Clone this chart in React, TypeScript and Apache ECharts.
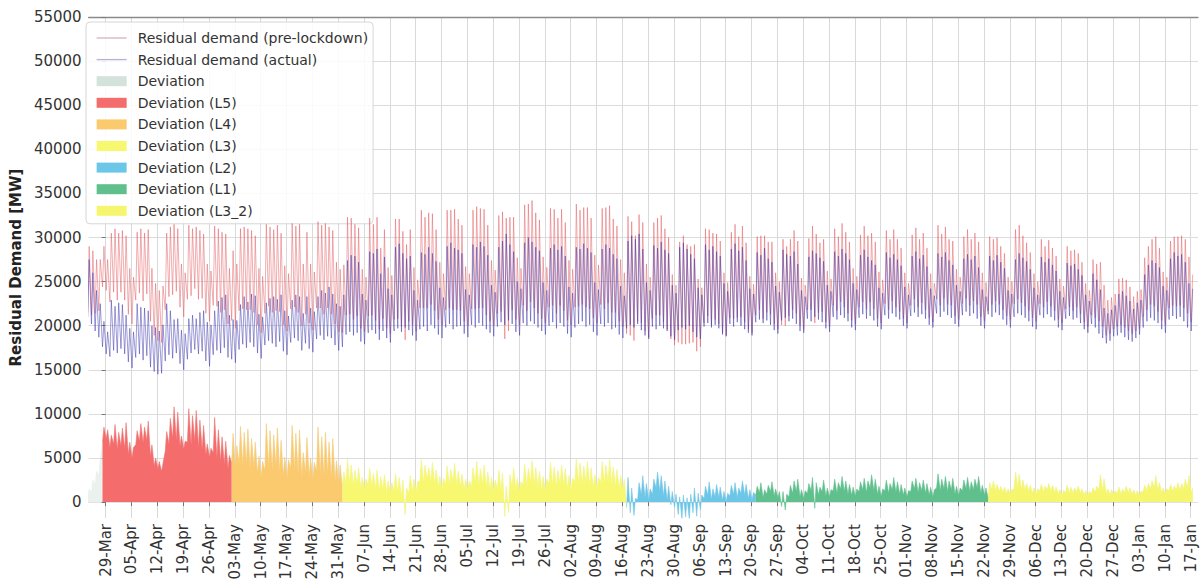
import { useEffect, useRef } from 'react';
import * as echarts from 'echarts';

// ---------- data (thousand MW) ----------
const dataStartDate = '2020-03-24';
const axisOriginDate = '2020-03-29';

const xTickLabels = ['29-Mar','05-Apr','12-Apr','19-Apr','26-Apr','03-May','10-May','17-May','24-May','31-May','07-Jun','14-Jun','21-Jun','28-Jun','05-Jul','12-Jul','19-Jul','26-Jul','02-Aug','09-Aug','16-Aug','23-Aug','30-Aug','06-Sep','13-Sep','20-Sep','27-Sep','04-Oct','11-Oct','18-Oct','25-Oct','01-Nov','08-Nov','15-Nov','22-Nov','29-Nov','06-Dec','13-Dec','20-Dec','27-Dec','03-Jan','10-Jan','17-Jan'];
const yTicks = [0, 5000, 10000, 15000, 20000, 25000, 30000, 35000, 40000, 45000, 50000, 55000];

// daily peak of the actual residual demand (one row per week, GW)
const actualPeak = [
  [27.5, 26.0, 24.0, 22.5, 20.5, 19.3],
  [22.9, 22.2, 22.6, 22.4, 21.2, 19.7, 19.3],
  [22.5, 22.1, 22.0, 21.7, 20.0, 19.8, 19.4],
  [20.1, 22.5, 21.7, 20.7, 20.8, 19.5, 19.1],
  [20.8, 21.2, 20.8, 21.5, 21.7, 20.4, 20.1],
  [21.7, 22.8, 23.2, 23.5, 21.2, 20.7, 20.6],
  [22.4, 23.3, 22.7, 23.6, 23.4, 21.3, 21.0],
  [22.6, 23.1, 23.3, 23.0, 23.5, 21.7, 21.1],
  [22.9, 23.5, 23.3, 21.4, 23.3, 22.0, 21.6],
  [23.3, 24.0, 23.7, 24.4, 23.6, 22.5, 22.2],
  [23.5, 27.4, 28.0, 27.9, 27.2, 23.6, 22.9],
  [28.4, 28.2, 28.7, 25.9, 27.8, 24.2, 23.5],
  [28.9, 29.3, 28.2, 27.6, 27.9, 24.0, 22.9],
  [28.3, 28.1, 28.9, 28.2, 27.3, 24.3, 23.2],
  [29.0, 29.4, 28.8, 28.6, 28.2, 24.1, 23.5],
  [29.2, 28.9, 29.5, 29.0, 28.0, 24.6, 23.8],
  [28.9, 29.6, 30.4, 29.2, 28.4, 25.0, 24.2],
  [29.4, 30.0, 29.5, 28.9, 28.5, 24.9, 24.0],
  [28.8, 29.2, 28.6, 29.0, 27.9, 24.4, 23.7],
  [28.9, 28.7, 29.3, 28.8, 28.3, 24.9, 24.1],
  [28.7, 29.2, 28.8, 28.1, 27.6, 24.5, 23.4],
  [29.6, 30.2, 29.8, 30.4, 28.7, 24.9, 24.0],
  [29.1, 28.8, 29.5, 28.6, 28.2, 24.6, 23.7],
  [28.9, 29.4, 28.7, 28.1, 27.6, 24.3, 23.5],
  [29.2, 28.6, 29.0, 28.4, 27.9, 24.8, 23.9],
  [28.7, 29.3, 28.5, 28.9, 27.4, 24.2, 23.6],
  [28.3, 28.0, 28.8, 27.6, 27.2, 24.5, 23.8],
  [28.6, 28.1, 27.9, 28.4, 27.0, 24.0, 23.3],
  [27.8, 28.5, 28.2, 27.7, 27.3, 24.6, 23.9],
  [28.4, 27.9, 28.7, 28.2, 27.5, 24.8, 24.1],
  [28.0, 28.6, 27.8, 27.4, 26.9, 24.3, 23.7],
  [28.3, 27.7, 28.1, 27.5, 26.8, 24.4, 23.5],
  [27.9, 28.4, 27.6, 28.0, 26.7, 24.2, 23.4],
  [28.2, 27.8, 28.3, 27.4, 26.9, 24.6, 23.9],
  [27.6, 28.1, 27.5, 27.9, 26.6, 24.1, 23.3],
  [27.9, 27.4, 28.0, 27.2, 26.5, 24.0, 23.6],
  [27.5, 28.2, 27.7, 27.3, 26.4, 24.3, 23.5],
  [27.8, 27.2, 27.6, 26.9, 26.2, 23.9, 23.2],
  [27.1, 26.8, 27.0, 26.4, 25.7, 23.5, 22.8],
  [25.9, 25.2, 24.1, 22.0, 21.4, 21.8, 22.3],
  [23.6, 23.9, 23.4, 22.8, 21.9, 22.6, 22.9],
  [25.8, 26.9, 27.4, 27.1, 26.6, 24.5, 24.0],
  [27.6, 28.3, 27.9, 28.1, 27.2, 24.8, 24.2],
];

// daily trough of the actual residual demand (GW)
const actualTrough = [
  [21.0, 20.2, 19.4, 18.7, 17.6, 16.8],
  [16.5, 17.2, 16.9, 17.4, 16.8, 15.9, 15.2],
  [16.4, 16.8, 16.1, 16.6, 15.3, 14.8, 14.5],
  [14.6, 16.0, 16.7, 16.3, 16.9, 15.7, 15.0],
  [16.2, 16.9, 17.3, 16.8, 17.1, 16.0, 15.4],
  [16.7, 17.2, 16.9, 17.5, 16.4, 16.2, 15.8],
  [17.3, 17.9, 17.5, 18.1, 17.6, 16.9, 16.3],
  [17.8, 18.3, 18.0, 17.6, 18.2, 17.1, 16.7],
  [18.1, 18.6, 18.3, 17.2, 18.0, 17.4, 17.0],
  [18.5, 18.9, 18.4, 18.8, 18.6, 17.8, 17.2],
  [17.6, 19.0, 19.3, 18.9, 19.2, 18.2, 17.9],
  [19.2, 19.5, 19.1, 18.4, 19.4, 18.6, 18.1],
  [19.4, 19.7, 19.3, 19.8, 19.5, 18.9, 18.3],
  [19.6, 19.9, 19.4, 20.1, 19.7, 19.0, 18.6],
  [19.8, 20.2, 19.6, 19.9, 20.0, 19.1, 18.7],
  [20.1, 19.8, 20.3, 20.0, 19.6, 19.2, 18.8],
  [19.9, 20.4, 20.1, 20.6, 20.2, 19.3, 18.9],
  [20.3, 20.0, 20.5, 20.2, 19.8, 19.4, 19.0],
  [20.0, 20.4, 19.7, 20.3, 19.9, 19.1, 18.7],
  [19.8, 20.2, 20.5, 19.9, 20.1, 19.3, 18.9],
  [20.2, 19.9, 20.3, 19.6, 19.8, 19.0, 18.6],
  [19.7, 20.1, 19.8, 20.2, 19.5, 18.9, 18.5],
  [19.9, 19.6, 20.0, 19.7, 19.4, 18.8, 18.4],
  [19.5, 19.8, 19.6, 20.0, 19.3, 18.7, 18.5],
  [19.9, 20.3, 19.8, 20.1, 19.7, 19.0, 18.8],
  [20.2, 19.9, 20.4, 20.0, 19.6, 19.2, 18.9],
  [20.4, 20.7, 20.3, 20.6, 20.1, 19.5, 19.1],
  [20.6, 20.9, 20.5, 20.8, 20.2, 19.4, 19.2],
  [20.8, 20.5, 21.0, 20.7, 20.4, 19.7, 19.3],
  [21.0, 20.7, 21.2, 20.9, 20.5, 19.8, 19.5],
  [20.9, 21.3, 20.8, 21.1, 20.6, 19.9, 19.6],
  [21.2, 20.8, 21.4, 21.0, 20.7, 20.0, 19.7],
  [21.1, 21.5, 21.0, 21.3, 20.8, 20.1, 19.8],
  [21.4, 21.0, 21.6, 21.2, 20.9, 20.2, 19.9],
  [21.2, 21.6, 21.1, 21.4, 20.8, 20.0, 19.7],
  [21.3, 21.0, 21.5, 21.2, 20.7, 20.1, 19.8],
  [21.0, 21.4, 21.2, 20.9, 20.5, 19.9, 19.6],
  [21.2, 20.9, 21.3, 21.0, 20.6, 19.8, 19.5],
  [20.8, 21.1, 20.7, 20.9, 20.3, 19.6, 19.2],
  [20.2, 19.8, 19.1, 18.6, 18.0, 18.3, 18.8],
  [18.9, 19.2, 18.7, 18.4, 18.2, 18.6, 19.0],
  [19.8, 20.5, 20.9, 20.6, 20.3, 19.6, 19.2],
  [20.7, 21.1, 20.8, 21.0, 20.5, 19.8, 19.4],
];

// deviation (pre-lockdown minus actual) at the daily peak hour (GW)
const deviationPeak = [
  [1.5, 2.5, 3.5, 5.0, 8.5, 8.2],
  [7.6, 8.8, 7.9, 8.4, 9.0, 6.8, 6.2],
  [8.1, 8.9, 8.5, 9.2, 6.5, 5.0, 4.6],
  [4.4, 8.0, 9.5, 10.8, 10.2, 7.5, 6.9],
  [10.6, 9.8, 10.4, 9.3, 8.7, 6.6, 6.1],
  [9.6, 8.2, 7.4, 6.9, 5.3, 7.8, 6.4],
  [8.6, 7.9, 8.3, 7.2, 6.8, 5.2, 4.6],
  [8.9, 8.1, 7.6, 8.4, 7.0, 5.1, 4.8],
  [8.7, 7.8, 8.2, 5.6, 7.3, 5.0, 4.5],
  [8.5, 7.4, 7.9, 6.8, 7.2, 4.7, 4.2],
  [3.4, 4.9, 4.2, 3.6, 3.9, 2.8, 2.6],
  [3.8, 3.3, 3.6, 2.9, 3.1, 2.4, 2.2],
  [3.2, 2.8, 2.5, 1.6, 3.0, 2.6, 2.3],
  [4.8, 4.2, 3.9, 4.5, 3.6, 2.9, 2.7],
  [4.1, 3.7, 4.4, 3.5, 3.2, 2.6, 2.4],
  [3.9, 4.6, 3.8, 4.2, 3.4, 2.8, 2.5],
  [3.6, 3.3, 1.8, 3.1, 3.9, 2.7, 2.3],
  [4.3, 3.8, 4.7, 3.9, 3.5, 2.9, 2.6],
  [4.5, 4.0, 3.6, 4.2, 3.8, 3.0, 2.7],
  [4.9, 4.4, 4.1, 4.6, 3.9, 3.1, 2.8],
  [4.6, 4.2, 4.8, 4.0, 3.7, 3.0, 2.6],
  [2.8, 1.6, 0.4, 2.2, 3.0, 2.1, 1.5],
  [2.6, 3.4, 3.0, 2.4, 1.8, 1.2, 0.9],
  [0.6, 0.8, 0.5, 0.9, 1.6, 1.0, 0.8],
  [1.8, 2.3, 1.5, 2.0, 1.7, 1.2, 1.0],
  [1.9, 2.2, 1.6, 2.4, 2.0, 1.4, 1.1],
  [1.8, 2.2, 1.4, 1.9, 2.3, 1.5, 1.2],
  [1.2, 0.9, 1.9, 2.4, 2.6, 1.4, 1.3],
  [2.1, 2.8, 2.2, 1.7, 2.5, 1.6, 1.4],
  [2.6, 2.2, 2.9, 2.4, 2.0, 1.7, 1.5],
  [2.3, 2.7, 2.4, 3.1, 2.6, 1.8, 1.5],
  [2.5, 2.1, 2.8, 2.3, 2.0, 1.6, 1.3],
  [2.4, 2.7, 2.2, 2.5, 2.1, 1.7, 1.4],
  [3.2, 2.6, 2.9, 2.4, 2.7, 1.8, 1.6],
  [2.5, 2.8, 2.3, 2.6, 2.9, 1.9, 1.6],
  [2.2, 2.4, 2.0, 1.8, 1.7, 1.5, 1.4],
  [3.4, 3.2, 2.5, 2.1, 1.9, 1.6, 1.5],
  [2.0, 1.8, 2.1, 1.9, 1.7, 1.4, 1.3],
  [1.9, 1.7, 1.6, 1.8, 1.5, 1.3, 1.2],
  [1.6, 1.8, 3.1, 2.6, 1.5, 1.4, 1.3],
  [1.7, 1.5, 1.8, 1.6, 1.4, 1.3, 1.2],
  [1.9, 2.1, 2.4, 3.0, 2.2, 1.6, 1.5],
  [2.0, 1.8, 2.2, 2.1, 2.6, 3.0, 1.6],
];

// deviation at the daily trough hour (GW)
const deviationTrough = [
  [0.5, 1.0, 2.0, 3.0, 6.8, 7.2],
  [6.2, 6.6, 6.0, 6.4, 6.1, 5.4, 5.0],
  [6.5, 6.9, 6.7, 7.0, 5.2, 4.1, 3.8],
  [3.5, 5.8, 6.6, 7.2, 7.0, 6.4, 6.0],
  [6.8, 6.5, 6.9, 6.2, 6.0, 5.4, 5.1],
  [5.6, 5.0, 4.6, 4.3, 3.8, 4.4, 3.9],
  [4.4, 4.0, 4.3, 3.7, 3.9, 3.2, 2.9],
  [3.6, 3.9, 3.5, 4.1, 3.4, 3.0, 2.7],
  [3.8, 3.5, 3.2, 2.8, 3.3, 2.9, 2.5],
  [3.5, 3.1, 2.9, 3.2, 2.7, 2.4, 2.1],
  [1.6, 2.2, 2.0, 1.8, 1.9, 1.5, 1.4],
  [1.9, 1.7, 1.5, 1.2, 1.4, 1.1, 1.0],
  [1.3, 1.1, 0.6, -1.4, 1.0, 1.2, 1.1],
  [2.4, 2.1, 2.6, 2.3, 2.0, 1.7, 1.5],
  [2.0, 1.8, 2.2, 1.9, 1.7, 1.4, 1.3],
  [1.8, 2.1, 1.7, 2.0, 1.6, 1.3, 1.2],
  [1.5, 1.2, -1.6, -1.2, 1.6, 1.4, 1.2],
  [2.0, 1.7, 2.2, 1.8, 1.6, 1.4, 1.3],
  [2.1, 1.9, 1.7, 2.0, 1.8, 1.5, 1.4],
  [2.3, 2.0, 1.9, 2.2, 1.8, 1.6, 1.4],
  [2.2, 2.0, 2.3, 1.9, 1.7, 1.5, 1.3],
  [-0.6, -1.2, -1.5, 0.3, 0.8, 0.5, 0.2],
  [0.9, 1.6, 1.2, 0.7, 0.2, -0.3, -0.6],
  [-1.4, -1.9, -1.7, -2.0, -1.2, -1.6, -0.9],
  [0.4, 0.8, 0.3, 0.6, 0.5, 0.2, 0.1],
  [0.7, 0.9, 0.5, 1.0, 0.8, 0.4, 0.3],
  [0.8, 1.1, 0.5, 0.9, 1.2, 0.7, 0.5],
  [-0.5, -0.9, 0.6, 1.0, 1.2, 0.6, 0.4],
  [1.0, 1.3, -0.7, 0.8, 1.2, 0.7, 0.6],
  [1.3, 1.0, 1.5, 1.2, 0.9, 0.8, 0.7],
  [1.2, 1.4, 1.1, 1.6, 1.3, 0.9, 0.7],
  [1.3, 1.0, 1.4, 1.1, 0.9, 0.8, 0.6],
  [1.2, 1.5, 1.1, 1.3, 1.0, 0.8, 0.6],
  [1.6, 1.3, 1.5, 1.2, 1.4, 0.9, 0.8],
  [1.3, 1.5, 1.2, 1.4, 1.6, 1.0, 0.8],
  [0.4, 1.4, 1.3, 1.2, 1.1, 1.0, 0.9],
  [1.5, 1.6, 1.4, 1.3, 1.2, 1.0, 0.9],
  [1.3, 1.2, 1.4, 1.2, 1.1, 0.9, 0.8],
  [1.1, 1.0, 1.0, 1.2, 1.0, 0.8, 0.7],
  [1.0, 1.1, 1.4, 1.3, 0.9, 0.8, 0.8],
  [1.0, 0.9, 1.1, 1.0, 0.9, 0.8, 0.7],
  [1.2, 1.3, 1.5, 1.6, 1.3, 1.0, 0.9],
  [1.3, 1.2, 1.4, 1.3, 1.5, 1.6, 1.0],
];

const phaseNames = ['Deviation (L5)', 'Deviation (L4)', 'Deviation (L3)', 'Deviation (L2)', 'Deviation (L1)', 'Deviation (L3_2)'];
const phaseStartDates = ['2020-03-28', '2020-05-02', '2020-06-01', '2020-08-17', '2020-09-21', '2020-11-23'];

// ---------- styling ----------
const FONT = 'DejaVu Sans';
const phaseColors = ['#f46c6c', '#fbca6e', '#f8f870', '#6cc6e8', '#5fc08d', '#f6f66e'];
const deviationGray = '#d3e2da';
const preColor = 'rgba(226, 90, 96, 0.55)';
const actColor = 'rgba(58, 52, 172, 0.55)';

const dayMs = 86400000;
const toDay = (s: string) => {
  const [y, m, d] = s.split('-').map(Number);
  return Date.UTC(y, m - 1, d) / dayMs;
};
const origin = toDay(axisOriginDate);
const startOffset = toDay(dataStartDate) - origin;

function buildOption() {
  const aHi = actualPeak.flat();
  const aLo = actualTrough.flat();
  const dHi = deviationPeak.flat();
  const dLo = deviationTrough.flat();
  const pre: number[][] = [];
  const act: number[][] = [];
  const dev: { day: number; pt: number[] }[] = [];
  for (let i = 0; i < aHi.length; i++) {
    const day = startOffset + i;
    const xLo = day + 0.17;
    const xHi = day + 0.55;
    act.push([xLo, aLo[i] * 1000], [xHi, aHi[i] * 1000]);
    pre.push([xLo, (aLo[i] + dLo[i]) * 1000], [xHi, (aHi[i] + dHi[i]) * 1000]);
    dev.push({ day, pt: [xLo, dLo[i] * 1000] }, { day, pt: [xHi, dHi[i] * 1000] });
  }
  const starts = phaseStartDates.map((s) => toDay(s) - origin);
  const phaseSeries = phaseNames.map((name, p) => {
    const s = starts[p];
    const e = p + 1 < starts.length ? starts[p + 1] : Infinity;
    const pts: number[][] = [];
    let added = false;
    for (const d of dev) {
      if (d.day >= s && d.day < e) pts.push(d.pt);
      else if (d.day >= e && !added) { pts.push(d.pt); added = true; }
    }
    return {
      name, type: 'line', data: pts, symbol: 'none', showSymbol: false, silent: true, z: 3,
      color: phaseColors[p],
      lineStyle: { width: 0.5, color: phaseColors[p] },
      areaStyle: { color: phaseColors[p], opacity: 1 },
    };
  });

  const tickOffsets = xTickLabels.map((_, i) => i * 7);
  const xMin = -4.6;
  const xMax = 296;

  const legendLine = (name: string, color: string) => ({
    name,
    itemStyle: { color: 'rgba(0,0,0,0)', borderWidth: 0, opacity: 0 },
    lineStyle: { color, width: 1.3, opacity: 1 },
  });

  return {
    animation: false,
    backgroundColor: '#ffffff',
    textStyle: { fontFamily: FONT },
    grid: { left: 87, right: 4, top: 17, bottom: 65, containLabel: false },
    legend: {
      orient: 'vertical', left: 86, top: 22,
      padding: [9, 5, 6, 10],
      backgroundColor: 'rgba(255,255,255,0.85)', borderColor: '#d6d6d6', borderWidth: 1, borderRadius: 4,
      itemWidth: 30, itemHeight: 10, itemGap: 7.6,
      textStyle: { fontSize: 14, color: '#333', fontFamily: FONT, lineHeight: 14, padding: [0, 0, 0, 6] },
      data: [
        legendLine('Residual demand (pre-lockdown)', 'rgba(205,160,170,0.8)'),
        legendLine('Residual demand (actual)', 'rgba(160,160,200,0.8)'),
        { name: 'Deviation', icon: 'rect', itemStyle: { color: deviationGray } },
        ...phaseNames.map((n, p) => ({ name: n, icon: 'rect', itemStyle: { color: phaseColors[p] } })),
      ],
    },
    xAxis: [
      {
        type: 'value', position: 'bottom', min: xMin, max: xMax,
        axisLine: { show: true, lineStyle: { color: '#e2e2e2' } },
        axisTick: { show: true, customValues: tickOffsets, length: 4, lineStyle: { color: '#777' } },
        axisLabel: {
          customValues: tickOffsets, rotate: 90, fontSize: 15, color: '#333', fontFamily: FONT, margin: 6,
          formatter: (v: number) => xTickLabels[Math.round(v / 7)] ?? '',
        },
        splitLine: { show: true, lineStyle: { color: '#d9d9d9', width: 1 } },
      },
      {
        type: 'value', position: 'top', min: xMin, max: xMax,
        axisLine: { show: true, lineStyle: { color: '#8a8a8a', width: 1.3 } },
        axisTick: { show: false }, axisLabel: { show: false }, splitLine: { show: false },
      },
    ],
    yAxis: {
      type: 'value', min: -1800, max: 55000,
      name: 'Residual Demand [MW]', nameLocation: 'middle', nameGap: 62,
      nameTextStyle: { fontWeight: 'bold', fontSize: 15, color: '#222', fontFamily: FONT },
      axisLine: { show: false },
      axisTick: { show: true, customValues: yTicks, length: 4, lineStyle: { color: '#777' } },
      axisLabel: {
        customValues: yTicks, fontSize: 15, color: '#333', fontFamily: FONT, margin: 7,
        formatter: (v: number) => String(Math.round(v)),
      },
      splitLine: { show: true, lineStyle: { color: '#dcdcdc', width: 1 } },
    },
    series: [
      {
        name: 'Deviation', type: 'line', data: dev.map((d) => d.pt), symbol: 'none', showSymbol: false, silent: true, z: 2,
        color: deviationGray, lineStyle: { width: 0.5, color: deviationGray, opacity: 0.5 },
        areaStyle: { color: deviationGray, opacity: 0.45 },
      },
      ...phaseSeries,
      {
        name: 'Residual demand (pre-lockdown)', type: 'line', data: pre, symbol: 'none', showSymbol: false, silent: true, z: 4,
        color: preColor, lineStyle: { width: 0.9, color: preColor },
      },
      {
        name: 'Residual demand (actual)', type: 'line', data: act, symbol: 'none', showSymbol: false, silent: true, z: 5,
        color: actColor, lineStyle: { width: 0.9, color: actColor },
      },
    ],
  };
}

export default function App() {
  const ref = useRef<HTMLDivElement>(null);
  useEffect(() => {
    if (!ref.current) return;
    const chart = echarts.init(ref.current, null, { renderer: 'svg' });
    chart.setOption(buildOption() as any);
    return () => chart.dispose();
  }, []);
  return (
    <div
      ref={ref}
      style={{ position: 'absolute', left: 0, top: 0, width: 1202, height: 583, background: '#fff' }}
    />
  );
}
